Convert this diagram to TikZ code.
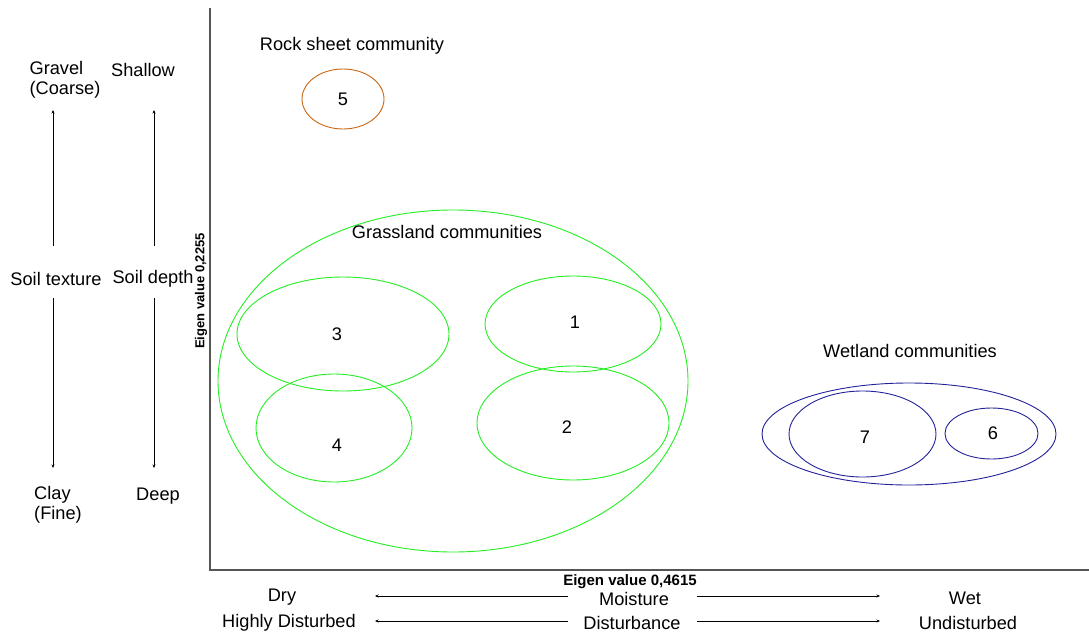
\documentclass[tikz,border=0pt]{standalone}
\usepackage{fontspec}
\setmainfont{Liberation Sans}
\usetikzlibrary{shapes.geometric,arrows.meta}
\definecolor{grn}{HTML}{22EE22}
\definecolor{org}{HTML}{CC6611}
\definecolor{nav}{HTML}{222299}
\definecolor{axg}{HTML}{555555}
\tikzset{
  lbl/.style={font=\fontsize{18.2}{20.5}\selectfont, inner sep=0pt, align=center},
  ax/.style={font=\fontsize{13}{15}\selectfont\bfseries, inner sep=0pt},
  ell/.style={ellipse, draw, line width=0.9pt, inner sep=0pt, font=\fontsize{18.2}{20.5}\selectfont},
  arr/.style={line width=0.7pt, -{Stealth[length=3.5pt,width=3pt]}},
}
\begin{document}
\begin{tikzpicture}[x=1pt,y=-1pt]
\useasboundingbox (0,0) rectangle (1089,634);
% axes
\coordinate (ytop) at (210,8);
\coordinate (orig) at (210,570);
\coordinate (xend) at (1089,570);
\draw[axg, line width=1.3pt] (ytop) -- (orig) -- (xend);
\node[ax, rotate=90] (yl) at (201,291) {Eigen value 0,2255};
\node[ax, font=\fontsize{15}{17}\selectfont\bfseries] (xl) at (630,582) {Eigen value 0,4615};
% rock sheet
\node[lbl] (rockt) at (352,46) {Rock sheet community};
\node[ell, draw=org, minimum width=82pt, minimum height=60pt] (e5) at (343,99) {5};
% grassland
\node[ell, draw=grn, minimum width=470pt, minimum height=342pt] (gr) at (453,381) {};
\node[lbl] (grt) at (447,232) {Grassland communities};
\node[ell, draw=grn, minimum width=212pt, minimum height=114pt] (e3) at (343,334) {};
\node[lbl] at (337,334) {3};
\node[ell, draw=grn, minimum width=176pt, minimum height=96pt] (e1) at (573,324) {};
\node[lbl] at (575,322) {1};
\node[ell, draw=grn, minimum width=156pt, minimum height=108pt] (e4) at (334,428) {};
\node[lbl] at (337,445) {4};
\node[ell, draw=grn, minimum width=192pt, minimum height=114pt] (e2) at (573,423) {};
\node[lbl] at (567,427) {2};
% wetland
\node[lbl] (wet) at (910,351) {Wetland communities};
\node[ell, draw=nav, minimum width=294pt, minimum height=102pt] (wl) at (909,434) {};
\node[ell, draw=nav, minimum width=147pt, minimum height=86pt] (e7) at (862.5,434) {};
\node[lbl] at (865,437) {7};
\node[ell, draw=nav, minimum width=93pt, minimum height=51pt] (e6) at (991.5,433.5) {};
\node[lbl] at (993,433) {6};
% left labels
\node[lbl, align=left] (grav) at (65,80) {Gravel\\(Coarse)};
\node[lbl] (shal) at (143,70) {Shallow};
\node[lbl] (stex) at (56,279) {Soil texture};
\node[lbl] (sdep) at (153,279) {Soil depth};
\node[lbl, align=left] (clay) at (58,505) {Clay\\(Fine)};
\node[lbl] (deep) at (158,496) {Deep};
\coordinate (a1s) at (53,246); \coordinate (a1e) at (53,110);
\coordinate (a2s) at (53,298); \coordinate (a2e) at (53,468);
\coordinate (a3s) at (154,246); \coordinate (a3e) at (154,110);
\coordinate (a4s) at (154,298); \coordinate (a4e) at (154,468);
\draw[arr] (a1s) -- (a1e);
\draw[arr] (a2s) -- (a2e);
\draw[arr] (a3s) -- (a3e);
\draw[arr] (a4s) -- (a4e);
% bottom labels
\node[lbl] (dry) at (282,597) {Dry};
\node[lbl] (moist) at (634,599) {Moisture};
\node[lbl] (wetl) at (965,598) {Wet};
\node[lbl] (hd) at (289,623) {Highly Disturbed};
\node[lbl] (dist) at (632,623) {Disturbance};
\node[lbl] (und) at (968,623) {Undisturbed};
\coordinate (b1s) at (568,596); \coordinate (b1e) at (375,596);
\coordinate (b2s) at (697,596); \coordinate (b2e) at (880,596);
\coordinate (b3s) at (568,621); \coordinate (b3e) at (375,621);
\coordinate (b4s) at (697,621); \coordinate (b4e) at (880,621);
\draw[arr] (b1s) -- (b1e);
\draw[arr] (b2s) -- (b2e);
\draw[arr] (b3s) -- (b3e);
\draw[arr] (b4s) -- (b4e);
\end{tikzpicture}
\end{document}
